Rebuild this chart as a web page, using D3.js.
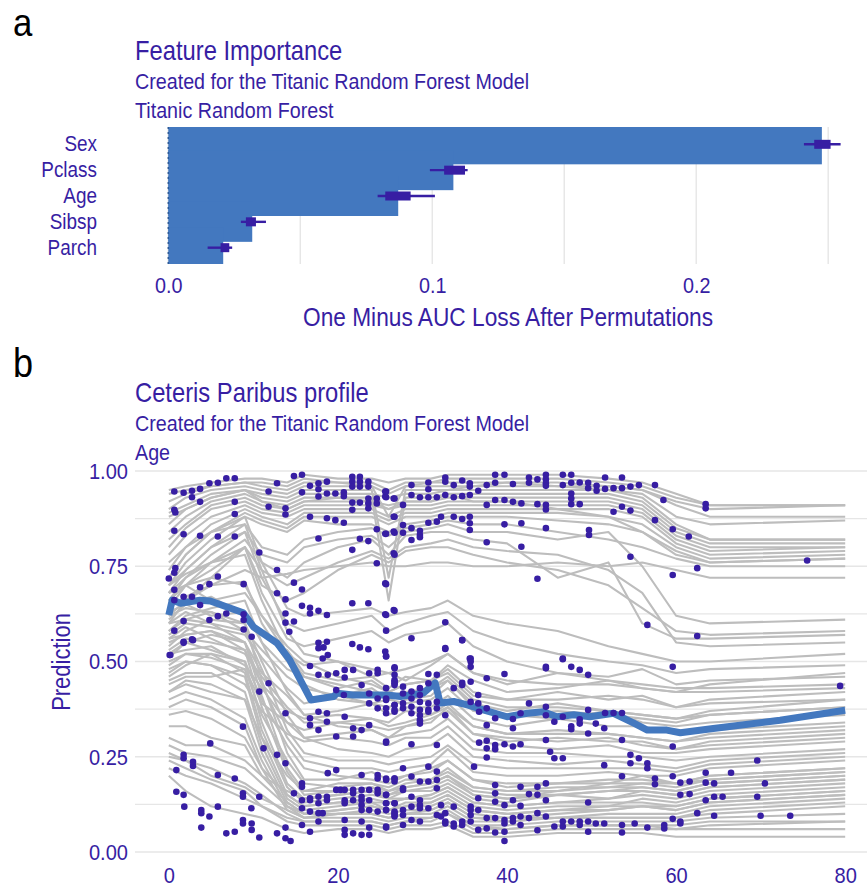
<!DOCTYPE html>
<html lang="en">
<head>
<meta charset="UTF-8">
<title>Feature Importance and Ceteris Paribus profile</title>
<script src="https://cdn.jsdelivr.net/npm/d3@7"></script>
<style>
  body { margin: 0; background: #fff; }
  svg { display: block; font-family: "Liberation Sans", Arial, sans-serif; }
</style>
</head>
<body>
<svg id="chart" width="867" height="888"></svg>
<script>
// ---- panel a: permutation importance ----
const fiVariables = ["Sex", "Pclass", "Age", "Sibsp", "Parch"];
const fiMean = [0.2476, 0.1080, 0.0871, 0.0318, 0.0208];
const fiMin = [0.2408, 0.0991, 0.0793, 0.0275, 0.0149];
const fiQ1 = [0.2447, 0.1045, 0.0822, 0.0294, 0.0198];
const fiQ3 = [0.2509, 0.1124, 0.0918, 0.0332, 0.0231];
const fiMax = [0.2547, 0.1134, 0.1010, 0.0370, 0.0242];
const fiTicks = [0, 0.1, 0.2];

// ---- panel b: ceteris paribus profiles for Age ----
const ageKnots = [0, 2, 5, 9, 11, 14, 16, 20, 24, 26, 28, 31, 33, 36, 40, 46, 52, 56, 60, 64, 80];
const profiles = [
  [.95,.96,.97,.98,.98,.97,.99,.98,.98,.97,.98,.98,.99,.99,.99,.99,.98,.97,.94,.91,.91],
  [.94,.95,.96,.97,.97,.96,.98,.97,.97,.95,.97,.97,.98,.98,.98,.98,.97,.96,.93,.91,.91],
  [.92,.94,.96,.97,.96,.95,.97,.97,.96,.88,.96,.97,.97,.97,.97,.97,.96,.95,.92,.90,.91],
  [.90,.93,.95,.96,.95,.94,.96,.96,.96,.94,.96,.96,.96,.96,.97,.96,.96,.95,.91,.88,.88],
  [.89,.91,.94,.95,.94,.93,.95,.95,.95,.72,.95,.95,.95,.96,.96,.96,.95,.94,.88,.86,.87],
  [.86,.90,.93,.95,.93,.92,.94,.94,.94,.93,.94,.94,.95,.95,.95,.95,.95,.93,.86,.82,.82],
  [.84,.88,.92,.94,.92,.91,.93,.93,.93,.66,.93,.93,.94,.94,.94,.94,.94,.92,.85,.82,.82],
  [.82,.86,.91,.93,.91,.90,.92,.92,.92,.91,.92,.92,.93,.93,.93,.93,.93,.91,.84,.81,.81],
  [.80,.85,.90,.92,.90,.89,.91,.91,.91,.90,.91,.91,.92,.92,.92,.92,.92,.90,.83,.80,.80],
  [.78,.83,.88,.91,.89,.88,.90,.90,.90,.88,.90,.90,.91,.91,.91,.91,.91,.89,.82,.79,.80],
  [.74,.80,.86,.90,.88,.86,.89,.89,.89,.87,.89,.89,.90,.90,.90,.90,.90,.88,.81,.78,.79],
  [.72,.78,.84,.89,.87,.85,.88,.88,.88,.86,.88,.88,.89,.89,.89,.89,.88,.86,.80,.77,.78],
  [.70,.76,.82,.88,.86,.84,.87,.86,.86,.84,.86,.87,.88,.88,.88,.87,.86,.84,.79,.76,.77],
  [.88,.90,.93,.95,.92,.90,.92,.93,.92,.90,.92,.92,.94,.92,.92,.90,.88,.84,.78,.76,.77],
  [.68,.74,.80,.86,.80,.78,.82,.84,.85,.83,.85,.86,.87,.86,.86,.84,.82,.80,.77,.75,.75],
  [.66,.72,.78,.84,.78,.76,.80,.82,.83,.80,.84,.85,.86,.84,.84,.82,.84,.75,.62,.60,.61],
  [.64,.70,.76,.82,.76,.72,.76,.80,.82,.78,.83,.84,.84,.82,.81,.72,.76,.60,.56,.56,.57],
  [.60,.66,.70,.74,.72,.73,.74,.75,.76,.75,.75,.76,.76,.75,.75,.76,.75,.76,.74,.72,.72],
  [.62,.66,.72,.80,.70,.66,.68,.74,.78,.76,.79,.80,.80,.78,.76,.74,.70,.64,.58,.57,.58],
  [.66,.70,.74,.80,.74,.70,.72,.76,.79,.77,.80,.81,.82,.80,.79,.78,.74,.68,.55,.54,.55],
  [.72,.78,.84,.88,.76,.64,.62,.63,.64,.62,.63,.64,.66,.62,.60,.58,.54,.52,.50,.50,.52],
  [.70,.74,.80,.84,.72,.60,.58,.60,.62,.58,.60,.62,.63,.58,.55,.52,.50,.49,.47,.48,.49],
  [.68,.72,.76,.80,.68,.56,.54,.56,.58,.55,.57,.58,.60,.54,.50,.47,.45,.44,.43,.43,.44],
  [.76,.80,.84,.86,.74,.58,.52,.50,.48,.47,.48,.50,.52,.47,.45,.44,.44,.43,.42,.44,.47],
  [.70,.73,.76,.78,.66,.52,.46,.44,.42,.41,.42,.43,.46,.40,.38,.38,.37,.36,.35,.37,.40],
  [.68,.70,.72,.70,.62,.54,.50,.46,.44,.42,.44,.45,.48,.42,.40,.40,.41,.40,.38,.40,.42],
  [.64,.67,.70,.71,.60,.50,.44,.40,.39,.38,.40,.41,.45,.38,.36,.37,.36,.35,.34,.36,.38],
  [.66,.70,.66,.68,.62,.52,.49,.50,.46,.47,.45,.49,.52,.47,.44,.47,.46,.48,.44,.45,.46],
  [.63,.65,.67,.62,.57,.53,.47,.45,.46,.43,.46,.45,.49,.45,.42,.43,.45,.43,.42,.42,.43],
  [.61,.65,.62,.63,.55,.48,.46,.43,.45,.42,.44,.45,.47,.41,.40,.42,.40,.41,.38,.39,.40],
  [.60,.61,.63,.58,.53,.46,.43,.41,.43,.40,.41,.43,.45,.39,.37,.39,.37,.36,.35,.36,.38],
  [.57,.60,.59,.57,.51,.43,.39,.41,.39,.40,.39,.40,.43,.37,.36,.35,.37,.34,.33,.34,.36],
  [.56,.57,.58,.55,.47,.41,.36,.37,.39,.36,.38,.38,.41,.35,.33,.35,.33,.33,.31,.32,.34],
  [.53,.56,.55,.53,.44,.37,.35,.36,.35,.34,.37,.36,.39,.33,.31,.32,.31,.30,.29,.30,.32],
  [.52,.53,.54,.49,.43,.34,.32,.34,.33,.32,.33,.35,.37,.31,.29,.30,.29,.29,.27,.28,.30],
  [.49,.52,.51,.48,.39,.34,.30,.31,.32,.30,.31,.32,.35,.29,.28,.27,.28,.26,.26,.27,.29],
  [.47,.50,.49,.44,.37,.31,.29,.30,.29,.28,.30,.30,.33,.27,.26,.26,.25,.25,.24,.25,.27],
  [.58,.62,.64,.66,.55,.42,.36,.33,.32,.30,.33,.34,.38,.31,.30,.29,.30,.28,.27,.29,.31],
  [.56,.59,.56,.52,.46,.38,.34,.34,.35,.33,.34,.36,.38,.33,.31,.31,.31,.30,.29,.31,.33],
  [.54,.58,.61,.60,.50,.36,.30,.27,.26,.25,.27,.28,.31,.25,.24,.23,.24,.23,.22,.24,.26],
  [.60,.63,.60,.58,.48,.32,.26,.24,.24,.23,.24,.25,.28,.23,.22,.22,.22,.22,.21,.23,.25],
  [.51,.55,.57,.55,.44,.30,.24,.22,.22,.21,.22,.23,.27,.21,.20,.20,.21,.20,.20,.22,.24],
  [.46,.49,.52,.50,.40,.28,.22,.20,.19,.18,.20,.21,.24,.19,.18,.18,.19,.19,.18,.20,.22],
  [.62,.64,.63,.60,.45,.26,.19,.19,.21,.19,.20,.22,.24,.19,.17,.18,.18,.20,.18,.20,.22],
  [.58,.61,.60,.55,.41,.22,.16,.18,.18,.17,.19,.19,.21,.17,.16,.16,.18,.18,.17,.19,.21],
  [.44,.46,.46,.48,.36,.24,.18,.17,.18,.16,.18,.19,.22,.17,.16,.17,.17,.17,.16,.18,.20],
  [.55,.57,.58,.53,.38,.21,.15,.16,.17,.16,.17,.18,.20,.15,.14,.15,.16,.17,.16,.18,.20],
  [.52,.55,.53,.50,.34,.18,.14,.15,.16,.14,.16,.16,.18,.14,.13,.15,.14,.16,.15,.17,.19],
  [.42,.44,.42,.40,.30,.20,.16,.16,.17,.15,.17,.18,.20,.16,.15,.15,.16,.16,.15,.17,.19],
  [.50,.52,.52,.47,.32,.17,.13,.14,.15,.14,.14,.15,.17,.13,.12,.13,.14,.15,.14,.16,.18],
  [.48,.50,.49,.46,.30,.15,.12,.13,.13,.13,.14,.14,.16,.12,.11,.12,.12,.14,.13,.15,.17],
  [.45,.47,.47,.42,.28,.14,.11,.12,.13,.11,.13,.13,.15,.11,.10,.11,.12,.12,.12,.14,.16],
  [.36,.37,.35,.30,.22,.15,.12,.13,.14,.13,.14,.15,.17,.13,.12,.13,.13,.13,.12,.14,.16],
  [.42,.45,.44,.40,.26,.13,.10,.11,.12,.11,.12,.12,.14,.10,.09,.10,.11,.12,.11,.13,.15],
  [.33,.33,.30,.28,.20,.13,.10,.11,.12,.11,.12,.13,.15,.11,.10,.11,.11,.12,.11,.13,.15],
  [.40,.42,.40,.35,.24,.12,.10,.10,.11,.10,.11,.11,.13,.09,.09,.09,.10,.10,.10,.12,.14],
  [.38,.40,.38,.33,.22,.11,.09,.10,.10,.09,.10,.10,.12,.08,.08,.09,.09,.09,.09,.11,.13],
  [.26,.24,.20,.17,.14,.11,.09,.10,.10,.09,.10,.11,.13,.09,.08,.09,.09,.09,.09,.10,.12],
  [.28,.26,.25,.22,.18,.12,.09,.09,.09,.08,.09,.09,.11,.07,.07,.08,.08,.08,.08,.09,.10],
  [.25,.24,.22,.18,.15,.10,.08,.08,.08,.07,.08,.08,.10,.06,.06,.07,.07,.07,.07,.08,.08],
  [.24,.22,.19,.16,.12,.09,.08,.08,.08,.07,.08,.09,.10,.07,.06,.07,.07,.07,.06,.07,.08],
  [.22,.20,.18,.14,.12,.08,.07,.07,.07,.06,.07,.07,.08,.05,.05,.06,.06,.06,.06,.06,.06],
  [.20,.16,.12,.10,.09,.06,.05,.06,.06,.05,.06,.06,.07,.04,.04,.05,.05,.05,.04,.04,.04],
  [.30,.28,.28,.24,.20,.16,.14,.15,.16,.15,.16,.17,.19,.15,.14,.16,.17,.18,.18,.19,.21]
];

const aggAge = [0, 0.4, 1.4, 3.7, 4.9, 8.8, 10, 12.8, 14.3, 16.8, 19.5, 19.9, 21.8, 25.8, 27.4, 30.1, 31.5, 32.1, 33.7, 35.3, 37.2, 40, 42.4, 44.3, 45.9, 47.9, 49.8, 52.6, 55, 56.6, 58.9, 60.5, 64.4, 72.3, 80];
const aggPred = [.622, .661, .653, .661, .659, .628, .591, .548, .504, .399, .408, .417, .412, .412, .408, .417, .444, .391, .395, .386, .373, .355, .364, .368, .355, .36, .355, .364, .338, .32, .32, .313, .324, .346, .372];

// observed passengers: [age, prediction]
const observations = [
  [0.65,.946],[1.75,.943],[2.74,.948],[3.7,.953],[2.74,.931],[3.7,.919],[4.8,.968],[5.8,.969],[6.8,.981],[7.8,.981],
  [0.65,.898],[0.77,.891],[7.8,.919],[7.8,.887],[0.65,.843],[1.75,.834],[3.7,.830],[5.8,.828],[7.8,.828],[0,.718],
  [0.65,.733],[0.77,.745],[0.65,.688],[0.65,.661],[1.75,.670],[3.7,.695],[4.8,.703],[5.8,.723],[8.85,.703],[10.7,.786],
  [2.74,.670],[3.7,.648],[4.8,.609],[5.8,.619],[6.8,.626],[8.85,.624],[8.85,.609],[8.85,.584],[9.8,.565],[1.75,.606],
  [0.65,.581],[1.75,.552],[2.74,.558],[0.1,.517],
  [11.8,.946],[12.8,.968],[14.8,.987],[15.75,.99],[16.7,.961],[17.7,.968],[18.7,.972],[17.7,.952],[18.7,.941],[19.7,.941],
  [20.7,.944],[21.7,.985],[22.6,.985],[21.7,.972],[22.6,.972],[21.7,.959],[22.6,.959],[23.6,.972],[23.6,.959],[15.75,.944],
  [17.7,.933],[20.7,.934],[11.8,.906],[13.8,.902],[13.8,.886],[16.7,.880],[18.7,.876],[19.7,.871],[20.7,.864],[21.7,.917],
  [21.7,.898],[22.6,.917],[23.6,.928],[23.6,.915],[24.6,.928],[24.6,.915],[25.6,.946],[25.6,.933],[26.6,.928],[23.6,.902],
  [17.7,.823],[21.7,.793],[22.6,.822],[23.6,.816],[24.6,.847],[25.6,.835],[24.6,.758],[25.6,.705],[26.6,.841],[26.6,.880],
  [26.6,.784],[12.8,.740],[12.8,.679],[13.8,.663],[14.8,.707],[15.75,.689],[13.8,.626],[14.8,.605],[13.8,.602],[14.25,.578],
  [15.75,.646],[16.7,.626],[17.7,.633],[18.7,.622],[16.7,.641],[21.7,.653],[23.6,.653],[25.6,.624],[26.6,.635],[17.7,.549],
  [18.3,.537],[18.7,.552],[21.7,.546],[22.6,.537],[23.6,.532],[25.6,.526],
  [38.6,.99],[39.7,.99],[42.6,.983],[43.6,.978],[44.6,.99],[44.6,.978],[44.6,.968],[46.6,.99],[47.6,.99],[51.6,.983],[53.6,.983],
  [28.7,.963],[30.7,.970],[30.7,.952],[32.7,.983],[32.7,.972],[33.7,.963],[34.7,.975],[35.6,.968],[35.6,.959],[36.6,.948],
  [37.6,.963],[38.6,.969],[40.7,.966],[42.6,.969],[44.6,.961],[46.6,.963],[47.6,.969],[48.6,.970],[49.6,.969],[49.6,.955],
  [50.6,.961],[50.6,.948],[51.6,.953],[52.6,.955],[53.6,.955],[54.6,.959],[55.6,.963],[57.5,.963],
  [25.7,.946],[25.7,.931],[26.7,.928],[28.7,.937],[29.7,.931],[30.7,.931],[31.7,.931],[32.7,.937],[33.7,.931],[34.7,.934],
  [35.6,.937],[37.6,.911],[38.6,.924],[39.7,.924],[40.7,.919],[41.7,.915],[43.6,.913],[44.6,.911],[44.6,.899],[47.6,.941],
  [47.6,.928],[47.6,.913],[48.6,.913],[58.5,.924],[63.5,.913],[63.5,.902],
  [27.7,.911],[26.7,.880],[27.7,.858],[28.7,.850],[29.7,.843],[29.7,.832],[29.7,.826],[28.7,.819],[26.7,.838],[27.7,.838],
  [25.7,.835],[30.7,.864],[31.7,.867],[32.2,.880],[33.7,.880],[34.7,.874],[35.6,.880],[35.6,.863],[35.6,.845],[37.6,.813],
  [39.7,.860],[41.7,.863],[44.6,.850],[41.7,.801],[49.7,.845],[49.7,.832],[52.6,.893],[53.6,.906],[54.6,.896],[57.5,.871],
  [59.6,.847],[61.5,.828],[54.6,.775],[62.5,.745],[59.6,.727],[75.5,.765],[43.6,.717],[26.7,.780],[25.7,.703],[56.6,.596],
  [62.5,.567],[25.7,.622],[26.7,.633],[25.7,.581],[28.7,.561],[32.7,.603],[32.7,.533],[34.7,.556],[35.6,.508],[46.6,.508],
  [0.18,.517],[1.75,.549],[2.86,.556],[10.7,.421],[11.8,.443],[13.8,.364],[8.77,.329],[11.2,.272],[12.8,.255],[13.8,.233],
  [4.9,.285],[1.75,.255],[1.75,.246],[2.86,.237],[2.86,.226],[0.89,.215],[5.8,.202],[7.8,.193],[0.89,.158],[1.75,.150],
  [8.77,.154],[8.77,.145],[10.7,.145],[1.83,.119],[3.84,.110],[3.84,.102],[4.8,.093],[5.8,.119],[9.76,.115],[3.84,.064],
  [6.8,.049],[7.8,.053],[8.77,.084],[8.77,.075],[9.8,.075],[9.8,.058],[10.7,.038],[12.8,.049],[13.8,.064],[13.8,.036],
  [14.4,.029],[14.8,.154],[15.75,.180],[15.75,.171],[15.75,.136],[15.75,.115],[15.75,.071],[16.7,.141],[16.7,.136],[16.7,.106],
  [16.7,.053],[17.7,.145],[17.7,.128],[17.7,.102],[17.7,.080],[18.2,.102],[18.7,.145],[18.7,.136],[18.8,.207],[19.8,.215],
  [19.8,.163],[20.3,.163],[20.8,.163],[20.8,.136],[20.8,.128],[20.8,.084],[20.8,.058],[20.8,.045],[21.8,.163],[21.8,.154],
  [21.8,.136],[21.8,.049],[22.8,.163],[22.8,.145],[22.8,.136],[22.8,.123],[22.8,.110],[22.8,.080],[22.8,.045],[23.7,.163],
  [23.7,.136],[23.7,.110],[23.7,.064],[23.7,.045],[24.7,.202],[24.7,.193],[24.7,.163],[24.7,.154],[24.7,.106],[25.7,.189],
  [25.7,.150],[25.7,.128],[25.7,.110],[25.7,.064],[26.7,.193],[26.7,.185],[26.7,.128],[26.7,.102],[26.7,.093],[22.8,.202],
  [16.7,.488],[17.7,.535],[18.2,.508],[18.8,.517],[16.7,.351],[16.7,.333],[17.7,.368],[17.7,.320],[18.7,.364],[18.7,.342],
  [19.8,.303],[20.8,.355],[21.8,.325],[21.8,.303],[22.8,.320],[23.7,.333],[25.7,.290],[17.7,.465],[18.8,.465],[19.8,.469],
  [20.8,.478],[20.8,.458],[21.8,.478],[23.7,.469],[24.7,.478],[24.7,.469],[26.7,.482],[25.7,.513],[26.7,.451],[26.7,.443],
  [25.7,.403],[24.7,.403],[23.7,.416],[23.7,.390],[24.7,.377],[26.7,.386],[26.7,.368],[22.8,.438],[26.7,.465],[20.7,.412],
  [19.8,.425],
  [25.7,.514],[26.7,.485],[26.7,.447],[26.7,.438],[27.7,.434],[27.7,.416],[28.7,.421],[28.7,.403],[29.7,.430],[29.7,.412],
  [29.7,.394],[30.7,.467],[30.7,.443],[31.7,.465],[30.7,.390],[31.7,.394],[25.7,.430],[25.7,.399],[26.7,.386],[26.7,.373],
  [27.7,.390],[28.7,.381],[29.7,.373],[30.7,.373],[31.7,.377],[25.7,.377],[25.7,.364],[27.7,.377],[28.7,.364],[29.7,.359],
  [29.7,.346],[29.7,.337],[30.7,.368],[32.7,.535],[34.7,.556],[35.7,.508],[35.7,.500],[35.7,.486],[37.6,.456],[39.7,.467],
  [34.7,.444],[34.7,.438],[35.7,.447],[33.7,.430],[35.7,.394],[36.6,.412],[36.6,.390],[37.6,.377],[36.7,.368],[32.7,.359],
  [38.6,.351],[40.7,.349],[40.7,.325],[41.6,.364],[42.6,.390],[44.6,.381],[44.6,.359],[45.6,.342],[44.6,.486],[44.6,.482],
  [46.6,.506],[47.6,.486],[48.6,.478],[49.6,.465],[49.6,.373],[46.6,.355],[47.6,.330],[47.6,.322],[48.6,.348],[48.6,.337],
  [49.6,.311],[50.5,.337],[51.5,.325],[51.6,.365],[52.6,.365],[53.6,.365],[51.5,.228],[53.6,.294],[54.6,.255],[54.6,.233],
  [55.6,.246],[56.6,.233],[56.6,.220],[59.6,.486],[59.6,.277],[69.6,.240],[79.4,.436],[37.6,.333],[38.6,.281],[39.7,.283],
  [40.7,.277],[41.6,.283],[44.6,.294],[45.1,.263],[45.6,.246],[46.6,.246],[37.6,.292],[37.6,.272],[37.6,.248],[36.7,.287],
  [38.6,.270],[31.7,.281],[28.7,.283],[25.7,.287],[27.7,.220],[30.7,.224],[31.7,.211],[36.1,.224],
  [25.7,.193],[26.7,.193],[27.7,.167],[28.7,.198],[29.7,.185],[30.7,.185],[31.7,.189],[31.7,.167],[25.7,.150],[26.7,.128],
  [27.7,.163],[28.7,.145],[29.7,.136],[29.7,.123],[29.7,.115],[28.7,.119],[30.7,.115],[32.2,.123],[32.7,.102],[33.7,.119],
  [35.7,.119],[35.7,.110],[36.6,.141],[36.6,.110],[25.7,.128],[25.7,.110],[26.7,.106],[26.7,.097],[27.7,.110],[27.7,.097],
  [25.7,.067],[27.7,.071],[28.7,.084],[29.7,.080],[31.7,.097],[32.2,.093],[32.7,.080],[32.7,.075],[33.7,.075],[33.7,.067],
  [34.7,.080],[34.7,.071],[35.7,.080],[35.7,.097],[36.6,.058],[37.6,.089],[37.6,.062],[38.6,.089],[38.6,.051],[39.7,.084],
  [39.7,.075],[39.7,.053],[39.7,.029],[40.7,.080],[40.7,.089],[41.6,.093],[41.6,.071],[42.6,.089],[43.6,.102],[43.6,.057],
  [44.6,.093],[45.6,.067],[46.6,.080],[46.6,.067],[47.6,.080],[48.6,.080],[48.6,.071],[49.6,.080],[49.6,.053],[50.5,.075],
  [51.5,.075],[53.6,.071],[53.6,.051],[55.1,.075],[56.6,.064],[58.6,.071],[58.6,.062],[59.6,.087],[60.5,.075],[60.5,.080],
  [62.5,.102],[64.5,.095],[70.0,.095],[73.5,.095],
  [38.6,.176],[38.6,.154],[38.6,.132],[39.7,.123],[40.7,.136],[41.6,.171],[41.6,.121],[42.6,.152],[43.6,.171],[43.6,.150],
  [44.6,.180],[44.6,.136],[49.6,.130],[53.6,.199],[57.5,.193],[57.5,.178],[59.6,.199],[60.5,.182],[61.6,.185],[60.5,.150],
  [61.6,.152],[63.5,.208],[63.5,.182],[64.5,.180],[66.5,.208],[63.5,.136],[64.5,.145],[65.5,.145],[69.6,.145],[70.5,.180]
];
const cpYTicks = [0, 0.25, 0.5, 0.75, 1];
const cpXTicks = [0, 20, 40, 60, 80];

const purple = "#371ea3", barBlue = "#4378bf", gridCol = "#e6e6e6", profileGray = "#bdbdbd";
const narrow = 0.88; // horizontal squeeze to imitate a condensed face
const svg = d3.select("#chart");

function label(x, y, txt, size, opts = {}) {
  return svg.append("text")
    .attr("transform", `translate(${x},${y})${opts.rotate ? " rotate(-90)" : ""} scale(${narrow},1)`)
    .attr("text-anchor", opts.anchor || "start")
    .attr("font-size", size)
    .attr("fill", opts.fill || purple)
    .text(txt);
}

// panel letters
label(13, 36, "a", 39.5, { fill: "#000" });
label(13, 377, "b", 41, { fill: "#000" });

// ============ panel a ============
label(135, 60, "Feature Importance", 27);
label(135, 89, "Created for the Titanic Random Forest Model", 22.4);
label(135, 118, "Titanic Random Forest", 22.4);

const aTop = 127, aBottom = 264;
const xa = d3.scaleLinear().domain([0, 0.2575]).range([168.3, 848]);
const ya = d3.scaleBand().domain(fiVariables).range([131.4, 260.6]);
const half = ya.step() * 0.774;

const ga = svg.append("g");
ga.append("g").selectAll("line")
  .data(d3.range(0, 0.26, 0.05))
  .join("line")
  .attr("x1", d => xa(d)).attr("x2", d => xa(d))
  .attr("y1", aTop).attr("y2", aBottom)
  .attr("stroke", gridCol).attr("stroke-width", 1.4);

svg.append("clipPath").attr("id", "clipA")
  .append("rect").attr("x", 0).attr("y", aTop).attr("width", 867).attr("height", aBottom - aTop);

ga.append("g").attr("clip-path", "url(#clipA)")
  .selectAll("rect")
  .data(fiVariables)
  .join("rect")
  .attr("x", xa(0))
  .attr("y", d => ya(d) + ya.bandwidth() / 2 - half)
  .attr("width", (d, i) => xa(fiMean[i]) - xa(0))
  .attr("height", half * 2)
  .attr("fill", barBlue);

ga.append("line")
  .attr("x1", xa(0)).attr("x2", xa(0)).attr("y1", aTop).attr("y2", aBottom)
  .attr("stroke", "#2c5a99").attr("stroke-width", 1.5).attr("stroke-dasharray", "2 3");

const box = ga.append("g").selectAll("g").data(fiVariables).join("g")
  .attr("transform", d => `translate(0,${ya(d) + ya.bandwidth() / 2})`);
box.append("line")
  .attr("x1", (d, i) => xa(fiMin[i])).attr("x2", (d, i) => xa(fiMax[i]))
  .attr("stroke", purple).attr("stroke-width", 2.4);
box.append("rect")
  .attr("x", (d, i) => xa(fiQ1[i])).attr("width", (d, i) => xa(fiQ3[i]) - xa(fiQ1[i]))
  .attr("y", -4.5).attr("height", 9).attr("fill", purple);

function styleAxis(g, size) {
  g.select(".domain").remove();
  g.selectAll("text")
    .attr("fill", purple).attr("font-size", size).attr("font-family", null)
    .attr("transform", `scale(${narrow},1)`);
}

const axA = svg.append("g").attr("transform", "translate(0,277)")
  .call(d3.axisBottom(xa).tickValues(fiTicks).tickFormat(d3.format(".1f")).tickSize(0).tickPadding(0));
styleAxis(axA, 22.5);
const axAy = svg.append("g").attr("transform", "translate(97,0)")
  .call(d3.axisLeft(ya).tickSize(0).tickPadding(0));
styleAxis(axAy, 21.5);

label(508, 326, "One Minus AUC Loss After Permutations", 25.8, { anchor: "middle" });

// ============ panel b ============
label(135, 402, "Ceteris Paribus profile", 27);
label(135, 431, "Created for the Titanic Random Forest Model", 22.4);
label(135, 460, "Age", 22.4);

const xb = d3.scaleLinear().domain([-4, 84]).range([135, 879]);
const yb = d3.scaleLinear().domain([0, 1]).range([852, 471]);

const gb = svg.append("g");
gb.append("g").selectAll("line")
  .data(d3.range(0, 1.001, 0.125))
  .join("line")
  .attr("x1", 135).attr("x2", 867)
  .attr("y1", d => yb(d)).attr("y2", d => yb(d))
  .attr("stroke", gridCol).attr("stroke-width", 1.4);

const line = d3.line().x((d, i) => xb(ageKnots[i])).y(d => yb(d));
gb.append("g").selectAll("path")
  .data(profiles)
  .join("path")
  .attr("d", line)
  .attr("fill", "none").attr("stroke", profileGray)
  .attr("stroke-width", 2.1).attr("stroke-linejoin", "round");

gb.append("path")
  .datum(aggPred)
  .attr("d", d3.line().x((d, i) => xb(aggAge[i])).y(d => yb(d)))
  .attr("fill", "none").attr("stroke", barBlue)
  .attr("stroke-width", 7).attr("stroke-linejoin", "round");

gb.append("g").selectAll("circle")
  .data(observations)
  .join("circle")
  .attr("cx", d => xb(d[0])).attr("cy", d => yb(d[1]))
  .attr("r", 3.3).attr("fill", purple);

const axBy = svg.append("g").attr("transform", "translate(128,0)")
  .call(d3.axisLeft(yb).tickValues(cpYTicks).tickFormat(d3.format(".2f")).tickSize(0).tickPadding(0));
styleAxis(axBy, 22.8);
const axBx = svg.append("g").attr("transform", "translate(0,867)")
  .call(d3.axisBottom(xb).tickValues(cpXTicks).tickSize(0).tickPadding(0));
styleAxis(axBx, 22.8);

label(70, 662, "Prediction", 25, { anchor: "middle", rotate: true });
</script>
</body>
</html>
